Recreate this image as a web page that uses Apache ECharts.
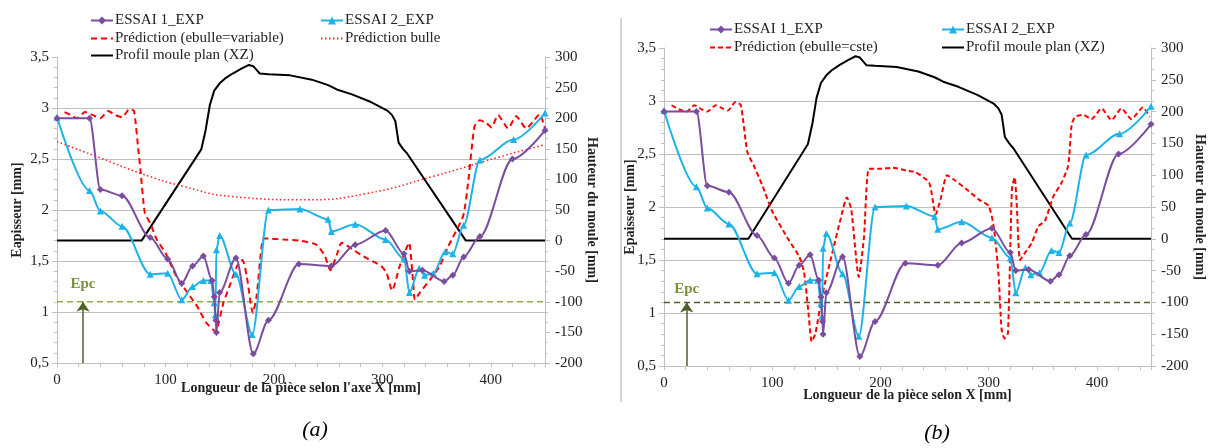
<!DOCTYPE html>
<html>
<head>
<meta charset="utf-8">
<script src="https://cdn.jsdelivr.net/npm/echarts@6/dist/echarts.min.js"></script>
<style>
html, body { margin: 0; padding: 0; background: #fff; }
#chart { width: 1211px; height: 448px; }
</style>
</head>
<body>
<div id="chart"></div>
<script>
// mesures (communes aux deux graphes)
var essai1X = [0, 30, 40, 60, 86, 102, 115, 125, 135, 143, 145, 146.5, 147, 150, 165, 181, 195, 223, 253, 275, 303, 320, 325, 337, 357, 365, 375, 390, 420, 450];
var essai1Y = [2.90, 2.90, 2.20, 2.14, 1.73, 1.52, 1.28, 1.45, 1.55, 1.31, 1.15, 0.92, 0.80, 1.19, 1.53, 0.59, 0.92, 1.47, 1.45, 1.66, 1.80, 1.57, 1.40, 1.41, 1.30, 1.36, 1.54, 1.74, 2.50, 2.78];

var essai2X = [0, 30, 40, 60, 86, 102, 115, 125, 135, 142, 145, 146, 147, 150, 165, 180, 195, 224, 250, 253, 275, 303, 320, 325, 334, 339, 347, 358, 365, 375, 390, 421, 450];
var essai2Y = [2.91, 2.19, 1.99, 1.84, 1.37, 1.38, 1.12, 1.25, 1.31, 1.31, 1.09, 0.97, 1.61, 1.75, 1.37, 0.78, 2.00, 2.01, 1.91, 1.79, 1.86, 1.71, 1.52, 1.19, 1.43, 1.36, 1.38, 1.59, 1.57, 1.85, 2.49, 2.69, 2.95];

// profil du moule (axe de droite)
var mouldX = [0, 78, 129, 133, 137, 141, 145, 150, 155, 162, 170, 177, 181, 184, 187, 195, 215, 235, 250, 258, 272, 290, 305, 309, 312, 315, 319, 323, 377, 450];
var mouldY = [0, 0, 138, 149, 180, 222, 245, 257, 265, 273, 281, 287, 285, 279, 273, 272, 270, 263, 254, 247, 239, 226, 212, 205, 195, 160, 150, 142, 0, 0];

// (a) prediction ebulle=variable
var predAX = [7, 13, 18, 26, 33, 40, 47, 54, 60, 67, 71, 75, 77, 81, 86, 92, 100, 110, 123, 129, 138, 146.5, 149, 153.5, 160, 166, 171, 175, 180.6, 184, 190.5, 196.6, 209, 224, 239, 247, 252, 258, 262.5, 273, 285, 299, 304, 309, 316, 321.6, 324.7, 328.5, 330, 334.6, 345, 353, 360.6, 374.5, 379, 385, 390, 396, 400.6, 406.7, 416, 423.5, 432.7, 440, 445, 450];
var predAY = [2.96, 2.93, 2.90, 2.96, 2.93, 2.90, 2.97, 2.93, 2.91, 2.99, 2.97, 2.59, 2.39, 1.97, 1.87, 1.71, 1.58, 1.35, 1.15, 1.06, 0.89, 0.81, 0.89, 1.09, 1.28, 1.45, 1.51, 1.35, 0.99, 1.15, 1.72, 1.72, 1.71, 1.70, 1.66, 1.55, 1.41, 1.56, 1.68, 1.61, 1.53, 1.45, 1.38, 1.21, 1.45, 1.61, 1.68, 1.28, 1.12, 1.19, 1.33, 1.45, 1.64, 1.94, 2.26, 2.82, 2.88, 2.85, 2.81, 2.93, 2.80, 2.92, 2.80, 2.88, 2.94, 2.80];

// (a) prediction bulle
var bulleX = [0, 40, 77, 117, 163, 230, 285, 347, 408, 450];
var bulleY = [2.67, 2.51, 2.36, 2.23, 2.13, 2.10, 2.16, 2.33, 2.52, 2.64];

// (b) prediction ebulle=cste
var predBX = [7, 14, 21, 28, 35, 40, 48, 54, 59, 66, 71, 77, 83, 91, 100, 114, 125, 129.5, 133.5, 136.5, 140, 146, 155.6, 163, 169, 173, 180, 184.8, 189.4, 198.6, 211, 226, 232, 245, 251, 255.5, 261.6, 269, 281.6, 291, 300, 304.6, 309, 312, 314.7, 317.8, 321.5, 324, 326, 329, 333.7, 339.8, 346, 352, 359.8, 367.4, 373.5, 376.6, 379.7, 387.4, 395, 404.3, 413.5, 422.7, 431.9, 442.6, 448.8];
var predBY = [2.96, 2.92, 2.90, 2.96, 2.92, 2.90, 2.96, 2.93, 2.91, 2.99, 2.96, 2.52, 2.39, 2.20, 1.96, 1.71, 1.53, 1.38, 1.00, 0.73, 0.81, 1.16, 1.57, 1.88, 2.09, 1.98, 1.34, 1.72, 2.36, 2.36, 2.37, 2.34, 2.33, 2.23, 1.93, 2.07, 2.30, 2.25, 2.15, 2.07, 2.01, 1.82, 1.38, 0.84, 0.76, 0.81, 2.17, 2.28, 2.01, 1.50, 1.57, 1.66, 1.82, 1.87, 2.10, 2.23, 2.39, 2.77, 2.85, 2.87, 2.83, 2.93, 2.82, 2.93, 2.83, 2.94, 2.85];

// epaisseur critique
var epcValue = 1.1;
var epcArrowX = [24, 21];

var xTicks = [0, 100, 200, 300, 400];

var SERIF = 'Liberation Serif';
var GRAY = '#bfbfbf';

function pairs(xs, ys) {
  return xs.map(function (x, i) { return [x, ys[i]]; });
}

// une legende par entree pour placer les deux colonnes comme sur la figure
function legendAt(name, left, top, noMarker) {
  var lg = {
    data: [name], left: left, top: top, padding: 0,
    itemWidth: 22, itemHeight: 10, itemGap: 0, selectedMode: false,
    textStyle: { fontFamily: SERIF, fontSize: 15, color: '#222', padding: [0, 0, 0, -3] }
  };
  if (noMarker) lg.itemStyle = { opacity: 0 };
  return lg;
}

function xAxisFor(grid, name, gap) {
  return {
    type: 'value', gridIndex: grid, min: 0, max: 450, interval: 20,
    name: name, nameLocation: 'middle', nameGap: gap, nameMoveOverlap: false,
    nameTextStyle: { fontFamily: SERIF, fontSize: 14, fontWeight: 'bold', color: '#222' },
    axisLine: { show: true, onZero: false, lineStyle: { color: GRAY } },
    axisTick: { show: true, length: 4, lineStyle: { color: GRAY } },
    axisLabel: {
      fontFamily: SERIF, fontSize: 15, color: '#222', margin: 10,
      formatter: function (v) { return xTicks.indexOf(v) >= 0 ? String(v) : ''; }
    },
    splitLine: { show: false }
  };
}

function leftAxis(grid, name, gap) {
  return {
    type: 'value', gridIndex: grid, position: 'left', min: 0.5, max: 3.5, interval: 0.5,
    name: name, nameLocation: 'middle', nameGap: gap, nameMoveOverlap: false,
    nameTextStyle: { fontFamily: SERIF, fontSize: 14, fontWeight: 'bold', color: '#222' },
    axisLine: { show: true, lineStyle: { color: GRAY } },
    axisTick: { show: true, length: 5, lineStyle: { color: GRAY } },
    minorTick: { show: true, splitNumber: 5, length: 3, lineStyle: { color: GRAY } },
    axisLabel: {
      fontFamily: SERIF, fontSize: 15, color: '#222', margin: 8,
      formatter: function (v) { return String(v).replace('.', ','); }
    },
    splitLine: { show: true, showMaxLine: false, lineStyle: { color: GRAY, width: 1 } }
  };
}

function rightAxis(grid, name, gap) {
  return {
    type: 'value', gridIndex: grid, position: 'right', min: -200, max: 300, interval: 50,
    name: name, nameLocation: 'middle', nameGap: gap, nameRotate: -90, nameMoveOverlap: false,
    nameTextStyle: { fontFamily: SERIF, fontSize: 14, fontWeight: 'bold', color: '#222' },
    axisLine: { show: true, lineStyle: { color: GRAY } },
    axisTick: { show: true, length: 5, lineStyle: { color: GRAY } },
    minorTick: { show: true, splitNumber: 3, length: 3, lineStyle: { color: GRAY } },
    axisLabel: { fontFamily: SERIF, fontSize: 15, color: '#222', margin: 10 },
    splitLine: { show: false }
  };
}

function essai1(xi, yi) {
  return {
    name: 'ESSAI 1_EXP', type: 'line', xAxisIndex: xi, yAxisIndex: yi,
    data: pairs(essai1X, essai1Y), smooth: 0.3, smoothMonotone: 'x',
    symbol: 'diamond', symbolSize: 7, color: '#7a4d9f',
    lineStyle: { width: 2 }, z: 4
  };
}

function essai2(xi, yi) {
  return {
    name: 'ESSAI 2_EXP', type: 'line', xAxisIndex: xi, yAxisIndex: yi,
    data: pairs(essai2X, essai2Y), smooth: 0.3, smoothMonotone: 'x',
    symbol: 'triangle', symbolSize: 7, color: '#1db3e8',
    lineStyle: { width: 2 }, z: 3
  };
}

function mould(xi, yi) {
  return {
    name: 'Profil moule plan (XZ)', type: 'line', xAxisIndex: xi, yAxisIndex: yi,
    data: pairs(mouldX, mouldY), showSymbol: false, symbol: 'none', color: '#000',
    lineStyle: { width: 2 }, z: 2
  };
}

function epc(xi, yi, arrowX, lineColor, labelDist) {
  return {
    name: 'Epc', type: 'line', xAxisIndex: xi, yAxisIndex: yi,
    data: [[0, epcValue], [450, epcValue]], symbol: 'none', silent: true,
    color: lineColor, lineStyle: { type: [6, 4], width: 1.5 }, z: 1,
    markLine: {
      silent: true, symbol: ['none', 'arrow'], symbolSize: 10,
      lineStyle: { type: 'solid', color: '#4f6228', width: 1.5 },
      label: {
        show: true, position: 'end', formatter: 'Epc', distance: labelDist,
        fontFamily: SERIF, fontSize: 15, fontWeight: 'bold', color: '#77933c'
      },
      data: [[{ coord: [arrowX, 0.5] }, { coord: [arrowX, epcValue] }]]
    }
  };
}

var chart = echarts.init(document.getElementById('chart'), null, { renderer: 'canvas' });

chart.setOption({
  animation: false,
  backgroundColor: '#fff',
  grid: [
    { left: 57, top: 57, width: 488, height: 306 },
    { left: 664, top: 48, width: 487, height: 318 }
  ],
  legend: [
    legendAt('ESSAI 1_EXP', 90, 13),
    legendAt('ESSAI 2_EXP', 320, 13),
    legendAt('Prédiction (ebulle=variable)', 90, 31, true),
    legendAt('Prédiction bulle', 320, 31, true),
    legendAt('Profil moule plan (XZ)', 90, 48, true),
    legendAt('ESSAI 1_EXP', 709, 22),
    legendAt('ESSAI 2_EXP', 941, 22),
    legendAt('Prédiction (ebulle=cste)', 709, 40, true),
    legendAt('Profil moule plan (XZ)', 941, 40, true)
  ],
  xAxis: [
    xAxisFor(0, "Longueur de la pièce selon l'axe X [mm]", 18),
    xAxisFor(1, 'Longueur de la pièce selon X [mm]', 22)
  ],
  yAxis: [
    leftAxis(0, 'Eapisseur [mm]', 33),
    rightAxis(0, 'Hauteur du moule [mm]', 40),
    leftAxis(1, 'Epaisseur [mm]', 27),
    rightAxis(1, 'Hauteur du moule [mm]', 42)
  ],
  series: [
    epc(0, 0, epcArrowX[0], '#8bae46', 10),
    mould(0, 1),
    {
      name: 'Prédiction bulle', type: 'line', xAxisIndex: 0, yAxisIndex: 0,
      data: pairs(bulleX, bulleY), smooth: true, symbol: 'none', color: '#ff2020',
      lineStyle: { type: [1.5, 2.5], width: 1.5 }, z: 2
    },
    {
      name: 'Prédiction (ebulle=variable)', type: 'line', xAxisIndex: 0, yAxisIndex: 0,
      data: pairs(predAX, predAY), smooth: 0.2, symbol: 'none', color: '#ff0000',
      lineStyle: { type: [6, 4], width: 2 }, z: 3
    },
    essai2(0, 0),
    essai1(0, 0),

    epc(1, 2, epcArrowX[1], '#4f6228', 6),
    mould(1, 3),
    {
      name: 'Prédiction (ebulle=cste)', type: 'line', xAxisIndex: 1, yAxisIndex: 2,
      data: pairs(predBX, predBY), smooth: 0.2, symbol: 'none', color: '#ff0000',
      lineStyle: { type: [5, 3], width: 2 }, z: 3
    },
    essai2(1, 2),
    essai1(1, 2)
  ],
  graphic: [
    { type: 'line', shape: { x1: 621, y1: 18, x2: 621, y2: 402 }, style: { stroke: '#aaa', lineWidth: 1 } },
    { type: 'text', x: 315, y: 430, style: { text: '(a)', font: 'italic 22px "Liberation Serif"', fill: '#000', textAlign: 'center', textVerticalAlign: 'middle' } },
    { type: 'text', x: 937, y: 433, style: { text: '(b)', font: 'italic 22px "Liberation Serif"', fill: '#000', textAlign: 'center', textVerticalAlign: 'middle' } }
  ]
});
</script>
</body>
</html>
